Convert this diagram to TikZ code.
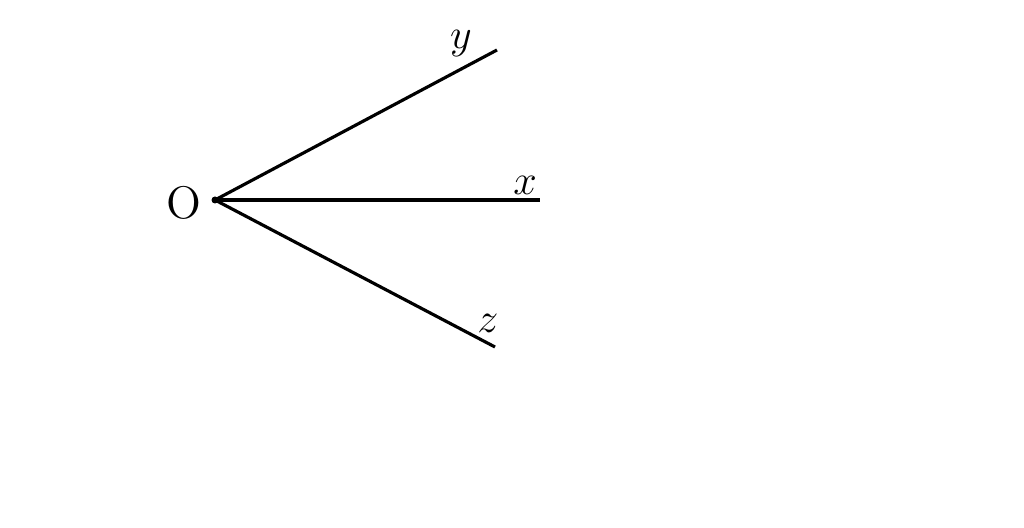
\documentclass[tikz,border=0pt]{standalone}
\usepackage{tikz}
\usetikzlibrary{positioning}
\tikzset{axis/.style={line width=0.9pt},
label/.style={font=\fontsize{13}{15}\selectfont, inner sep=0pt}
}
\begin{document}
\begin{tikzpicture}[x=0.01cm, y=-0.01cm]
\useasboundingbox (0,0) rectangle (1024,528);
\coordinate (O) at (215,200);
\coordinate (Y end) at (497,50);
\coordinate (X end) at (540,200);
\coordinate (Z end) at (495,347);
\fill (O) circle (3.5);
\node[label] (O label) at (184,203) {O};
\node[label] (Y label) at (461,44) {$y$};
\node[label] (X label) at (525,185) {$x$};
\node[label] (Z label) at (488,323) {$z$};

\draw[axis] (O)-- (Y end);
\draw[axis] (O)-- (X end);
\draw[axis] (O)-- (Z end);
\end{tikzpicture}
\end{document}
